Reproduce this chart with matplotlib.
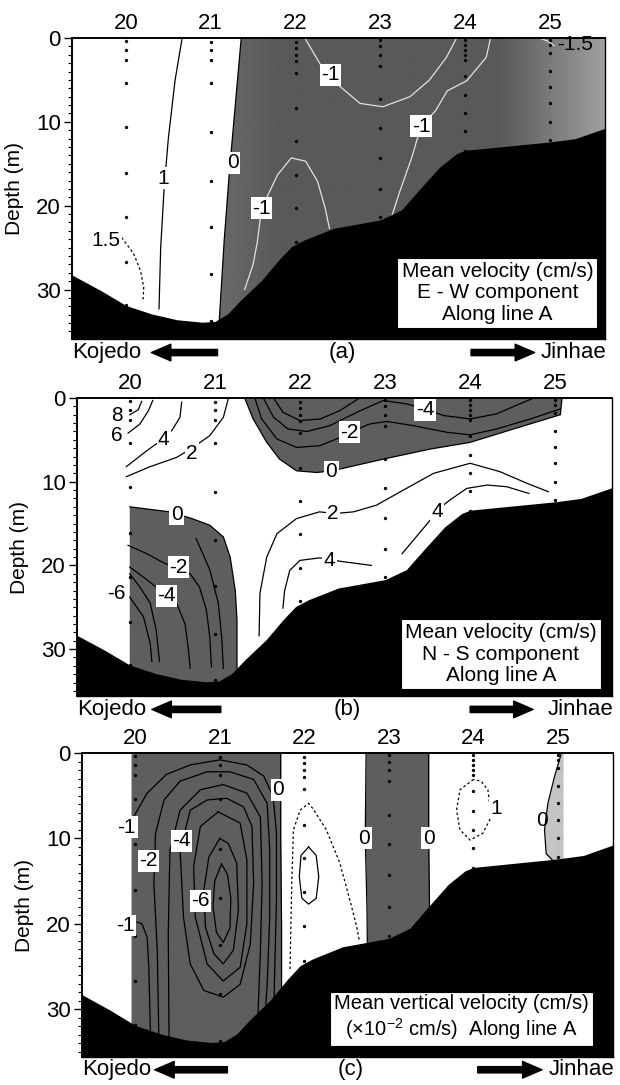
#! /usr/bin/python3

import numpy as np
import matplotlib.pyplot as plt
from matplotlib.patches import Polygon
from matplotlib.ticker import MultipleLocator

# ---- stations and sampling points ----
stations = [20, 21, 22, 23, 24, 25]
station_labels = ["20", "21", "22", "23", "24", "25"]

dots_20 = [0.4, 1.4, 2.6, 5.4, 10.6, 16.1, 21.4, 26.7, 31.9]
dots_21 = [0.5, 1.4, 2.6, 5.4, 11.2, 17.0, 22.5, 28.2, 33.7]
dots_22 = [0.5, 1.2, 2.0, 2.8, 4.2, 8.4, 12.3, 16.3, 20.3, 24.3]
dots_23 = [0.2, 1.0, 2.0, 3.3, 7.3, 10.7, 14.3, 18.0, 21.4]
dots_24 = [0.2, 0.8, 1.4, 2.0, 2.6, 4.5, 6.8, 9.0, 11.1, 13.5]
dots_25 = [0.2, 0.8, 1.8, 3.9, 5.8, 7.8, 10.0, 12.2]

# ---- bottom topography (station, depth m) ----
bath_x = [19.3, 19.37, 19.7, 20.0, 20.3, 20.6, 20.9, 21.05, 21.2, 21.35, 21.6, 21.8,
          21.95, 22.1, 22.45, 23.0, 23.25, 23.45, 23.7, 23.9, 24.0, 24.4, 25.0,
          25.3, 25.7]
bath_z = [28.0, 28.3, 30.1, 31.9, 32.9, 33.6, 33.9, 33.8, 32.9, 31.3, 28.9, 26.5,
          24.9, 24.1, 22.7, 21.7, 20.5, 18.2, 15.4, 13.8, 13.4, 13.0, 12.4,
          12.0, 10.6]

# ---- (a) E-W component ----
a_zero_x = [21.36, 21.29, 21.22, 21.16, 21.10, 21.07]
a_zero_z = [0, 8, 16, 24, 33.8, 36]
a_one_x = [20.66, 20.58, 20.50, 20.45, 20.41, 20.39]
a_one_z = [0.2, 5, 12, 18, 25, 32.3]
a_onehalf_x = [19.95, 20.09, 20.17, 20.21, 20.20]
a_onehalf_z = [23.8, 25.7, 27.7, 29.7, 31.5]
a_m1_bowl_x = [22.11, 22.29, 22.48, 22.76, 23.03, 23.35, 23.58, 23.78, 23.90]
a_m1_bowl_z = [0, 3.1, 5.4, 7.8, 8.2, 7.0, 5.0, 2.3, 0]
a_m1_right_x = [24.30, 24.25, 24.02, 23.79, 23.65, 23.48, 23.37, 23.23, 23.14, 23.07]
a_m1_right_z = [0, 2.3, 5.1, 6.3, 8.7, 10.5, 14.3, 18.3, 21.1, 22.7]
a_m1_hump_x = [21.40, 21.50, 21.55, 21.60, 21.79, 21.95, 22.12, 22.26, 22.35, 22.40]
a_m1_hump_z = [30.0, 27.0, 24.3, 20.3, 16.3, 14.3, 14.7, 17.1, 20.3, 22.7]
a_m15_x = [24.88, 24.98, 25.05]
a_m15_z = [0, 0.4, 0.9]

# ---- (b) N-S component ----
b_zero_top_x = [21.35, 21.45, 21.61, 21.76, 21.96, 22.2, 22.37, 22.55, 22.98,
                23.53, 24.0, 24.51, 25.06, 25.08]
b_zero_top_z = [0, 2.5, 5.3, 7.3, 8.7, 8.9, 8.7, 8.3, 7.3, 6.1, 5.3, 3.7, 2.0, 0]
b_m2_x = [21.47, 21.55, 21.73, 21.96, 22.23, 22.43, 22.59, 22.82, 23.02, 23.33,
          23.73, 24.0, 24.31, 24.71, 25.06]
b_m2_z = [0, 2.5, 4.9, 5.9, 5.7, 4.9, 4.1, 3.1, 2.8, 3.3, 4.1, 4.4, 3.7, 2.5, 1.3]
b_m4_x = [21.57, 21.69, 21.86, 22.08, 22.35, 22.67, 22.98, 23.25, 23.47, 23.69,
          24.0, 24.31, 24.63, 24.75]
b_m4_z = [0, 2.3, 3.7, 4.0, 3.3, 1.7, 0.3, 0.7, 1.3, 2.1, 2.5, 1.9, 0.5, 0]
b_m6_x = [21.69, 21.80, 22.0, 22.24, 22.47, 22.70]
b_m6_z = [0, 1.7, 2.7, 2.5, 1.5, 0]
b_2_x = [21.52, 21.53, 21.61, 21.73, 21.96, 22.23, 22.41, 22.63, 22.9, 23.18,
         23.57, 24.0, 24.35, 24.67, 24.92]
b_2_z = [28.4, 23.3, 19.0, 16.2, 14.4, 13.6, 13.8, 13.6, 12.8, 11.2, 9.0, 7.8,
         8.8, 10.2, 11.2]
b_4a_x = [21.80, 21.82, 21.88, 22.0, 22.23, 22.35, 22.47, 22.84]
b_4a_z = [25.1, 23.0, 20.6, 19.4, 19.1, 19.3, 19.5, 20.0]
b_4b_x = [23.20, 23.53, 23.61, 23.76, 23.96, 24.2, 24.43, 24.69]
b_4b_z = [18.6, 14.6, 13.4, 12.2, 10.8, 10.4, 10.6, 11.4]
b_2ul_x = [21.16, 21.10, 20.94, 20.73, 20.55, 20.24, 19.96]
b_2ul_z = [0, 2.3, 4.5, 6.0, 7.1, 8.2, 9.4]
b_4ul_x = [20.61, 20.59, 20.50, 20.39, 20.20, 19.96]
b_4ul_z = [0.5, 2.3, 3.8, 4.9, 6.3, 8.2]
b_6_x = [19.98, 20.12, 20.22, 20.27]
b_6_z = [4.2, 3.1, 1.5, 0.3]
b_8_x = [20.00, 20.10, 20.14]
b_8_z = [2.0, 1.4, 0.4]
b_zero_ll_x = [20.0, 20.47, 20.73, 20.94, 21.10, 21.18, 21.24, 21.26, 21.26]
b_zero_ll_z = [13.0, 13.6, 14.4, 15.2, 16.6, 19.0, 23.0, 26.5, 36.0]
b_ll_m2_x = [19.98, 20.2, 20.4, 20.57, 20.71, 20.82, 20.9, 20.94, 20.96]
b_ll_m2_z = [17.6, 18.6, 19.7, 20.4, 21.0, 22.6, 25.3, 28.5, 32.1]
b_ll_m4_x = [20.0, 20.16, 20.3, 20.43, 20.55, 20.65, 20.69, 20.71]
b_ll_m4_z = [20.2, 21.4, 22.5, 23.5, 24.5, 27.0, 30.1, 32.3]
b_ll_m6_x = [20.0, 20.12, 20.24, 20.31, 20.35]
b_ll_m6_z = [21.0, 22.6, 24.5, 27.7, 31.5]
b_ll_m8_x = [20.0, 20.16, 20.24, 20.26]
b_ll_m8_z = [23.8, 26.1, 29.3, 31.5]
b_ll_m1_x = [20.78, 20.94, 21.04, 21.08, 21.10]
b_ll_m1_z = [16.8, 20.5, 24.5, 28.5, 32.3]

# ---- (c) vertical component ----
c_band1_z = [0, 10, 20, 36]
c_band1_right = [21.72, 21.72, 21.73, 21.73]
c_band2_z = [0, 10, 18, 36]
c_band2_left = [22.73, 22.72, 22.74, 22.76]
c_band2_right = [23.47, 23.47, 23.48, 23.50]
c_band3_z = [0, 2.7, 5.9, 9.0, 11.8, 12.6]
c_band3_left = [25.04, 24.96, 24.88, 24.84, 24.86, 24.94]
c_m1a_x = [19.98, 20.14, 20.37, 20.65, 21.0, 21.32, 21.52, 21.63, 21.67, 21.67,
           21.65, 21.64]
c_m1a_z = [7.5, 4.7, 2.5, 1.4, 0.8, 1.4, 2.7, 5.1, 9.4, 17.3, 25.1, 29.5]
c_m1b_x = [20.02, 20.08, 20.14, 20.16, 20.18]
c_m1b_z = [19.8, 20.0, 21.6, 25.1, 33.0]
c_m2_x = [20.28, 20.26, 20.22, 20.24, 20.34, 20.53, 20.85, 21.12, 21.4, 21.56,
          21.59, 21.59, 21.56, 21.53]
c_m2_z = [34.0, 23.1, 15.3, 9.4, 5.5, 3.3, 2.2, 2.2, 3.1, 5.9, 11.4, 19.2, 27.1, 31.5]
c_m3_x = [20.40, 20.39, 20.41, 20.53, 20.77, 21.04, 21.32, 21.48, 21.50, 21.48, 21.45]
c_m3_z = [34.0, 21.2, 11.4, 6.7, 4.3, 3.7, 4.7, 7.5, 15.3, 23.1, 31.0]
c_m4_x = [20.53, 20.57, 20.65, 20.81, 21.04, 21.24, 21.36, 21.40, 21.38, 21.28,
          21.08, 20.85, 20.65, 20.53]
c_m4_z = [11.4, 19.2, 24.7, 27.8, 28.6, 27.1, 22.4, 15.3, 8.6, 6.3, 5.3, 5.5, 6.7, 11.4]
c_m5_x = [20.98, 20.77, 20.69, 20.71, 20.85, 21.04, 21.24, 21.32, 21.32, 21.24, 20.98]
c_m5_z = [6.9, 8.6, 13.3, 19.2, 24.7, 26.7, 25.1, 20.0, 12.5, 8.2, 6.9]
c_m6_x = [21.0, 20.87, 20.81, 20.83, 20.93, 21.04, 21.16, 21.22, 21.20, 21.10, 21.0]
c_m6_z = [10.0, 12.2, 16.1, 20.4, 23.5, 24.7, 23.1, 18.4, 12.9, 10.6, 10.0]
c_m7_x = [21.02, 20.94, 20.92, 20.96, 21.04, 21.12, 21.13, 21.09, 21.02]
c_m7_z = [13.0, 15.0, 18.0, 21.0, 22.2, 20.5, 17.0, 14.2, 13.0]
c_dash22_x = [21.83, 21.85, 21.87, 21.95, 22.05, 22.10, 22.26, 22.42, 22.54, 22.62, 22.65]
c_dash22_z = [25.3, 15.7, 9.0, 6.7, 5.9, 6.5, 9.0, 12.9, 17.3, 20.4, 22.0]
c_oval22_x = [22.05, 21.96, 21.94, 21.97, 22.05, 22.14, 22.17, 22.14, 22.05]
c_oval22_z = [11.0, 12.0, 14.5, 17.0, 17.7, 17.0, 14.5, 12.0, 11.0]
c_dash24_x = [24.0, 23.84, 23.80, 23.84, 23.96, 24.11, 24.21, 24.17, 24.09, 24.0]
c_dash24_z = [3.1, 4.3, 6.7, 9.0, 10.2, 9.4, 7.5, 4.3, 3.3, 3.1]

legend_a = "Mean velocity (cm/s)\nE - W component\nAlong line A"
legend_b = "Mean velocity (cm/s)\nN - S component\nAlong line A"
legend_c = "Mean vertical velocity (cm/s)\n(×10$^{-2}$ cm/s)  Along line A"

DARK = "#5e5e5e"
LIGHT = "#c4c4c4"
FS = 16
W, H = 620, 1085


def make_axes(fig, left, right, top, bottom, xlim, ylim):
    ax = fig.add_axes([left / W, 1 - bottom / H, (right - left) / W, (bottom - top) / H])
    ax.set_xlim(*xlim)
    ax.set_ylim(*ylim)
    ax.xaxis.tick_top()
    ax.set_xticks(stations)
    ax.set_xticklabels(station_labels, fontsize=FS)
    ax.tick_params(axis="x", length=0, pad=3)
    ax.set_yticks([0, 10, 20, 30])
    ax.yaxis.set_minor_locator(MultipleLocator(1))
    ax.tick_params(axis="y", which="major", direction="out", length=6, width=1,
                   labelsize=FS, pad=2)
    ax.tick_params(axis="y", which="minor", direction="out", length=3, width=0.8)
    ax.set_ylabel("Depth (m)", fontsize=15)
    ax.yaxis.set_label_coords(-0.09, 0.5)
    for side in ["left", "top"]:
        ax.spines[side].set_linewidth(1.4)
    for side in ["right", "bottom"]:
        ax.spines[side].set_linewidth(1.0)
    return ax


def dots(ax):
    for st, d in zip(stations, [dots_20, dots_21, dots_22, dots_23, dots_24, dots_25]):
        ax.plot([st] * len(d), d, "o", ms=2.4, mew=0, color="black", zorder=3)


def bottom(ax):
    ax.fill_between(bath_x, bath_z, 40, color="black", lw=0, zorder=4)


def line(ax, x, z, color="black", ls="-", lw=0.9):
    ax.plot(x, z, color=color, ls=ls, lw=lw, zorder=2)


def clabel(ax, x, z, s, box=True, fs=15):
    bb = dict(facecolor="white", edgecolor="none", pad=1.0) if box else None
    ax.text(x, z, s, ha="center", va="center", fontsize=fs, bbox=bb, zorder=5)


def legend(ax, x, z, s, fs=15):
    ax.text(x, z, s, ha="center", va="center", multialignment="center",
            fontsize=fs, linespacing=1.15, zorder=6,
            bbox=dict(facecolor="white", edgecolor="black", lw=0.8, pad=3))


def footer(ax, tag, koj, jin, y):
    tr = ax.get_xaxis_transform()
    ax.text(ax.get_xlim()[0], y, "Kojedo", transform=tr, ha="left", va="center", fontsize=FS)
    ax.text(22.55, y, tag, transform=tr, ha="center", va="center", fontsize=FS)
    ax.text(ax.get_xlim()[1] + 0.02, y, "Jinhae", transform=tr, ha="right", va="center",
            fontsize=FS)
    arrow = dict(facecolor="black", edgecolor="black", width=4.5, headwidth=12,
                 headlength=14, shrink=0.0)
    ax.annotate("", xy=(koj[0], y), xytext=(koj[1], y), xycoords=tr, textcoords=tr,
                arrowprops=arrow, annotation_clip=False)
    ax.annotate("", xy=(jin[1], y), xytext=(jin[0], y), xycoords=tr, textcoords=tr,
                arrowprops=arrow, annotation_clip=False)


def panel_a(fig):
    xlim, ylim = (19.364, 25.65), (35.9, 0)
    ax = make_axes(fig, 72, 605, 38, 339, xlim, ylim)
    # shaded negative region, lighter toward the eastern edge as in the print
    verts = list(zip(a_zero_x, a_zero_z)) + [(25.8, 36), (25.8, 0)]
    patch = Polygon(verts, closed=True, facecolor="none", edgecolor="none")
    ax.add_patch(patch)
    xs = np.linspace(21.0, 25.8, 300)
    shade = np.interp(xs, [21.0, 21.8, 24.4, 25.1, 25.8], [0.42, 0.35, 0.35, 0.5, 0.66])
    im = ax.imshow(shade[None, :], extent=[21.0, 25.8, 36, 0], cmap="gray", vmin=0,
                   vmax=1, aspect="auto", zorder=1, interpolation="bilinear")
    im.set_clip_path(patch)
    ax.set_xlim(*xlim)
    ax.set_ylim(*ylim)
    line(ax, a_zero_x, a_zero_z)
    line(ax, a_one_x, a_one_z)
    line(ax, a_onehalf_x, a_onehalf_z, ls=(0, (2, 2)))
    for x, z in [(a_m1_bowl_x, a_m1_bowl_z), (a_m1_right_x, a_m1_right_z),
                 (a_m1_hump_x, a_m1_hump_z), (a_m15_x, a_m15_z)]:
        line(ax, x, z, color="#e2e2e2")
    dots(ax)
    bottom(ax)
    clabel(ax, 21.26, 14.9, "0")
    clabel(ax, 20.44, 16.7, "1")
    clabel(ax, 19.76, 24.2, "1.5")
    clabel(ax, 22.41, 4.4, "-1")
    clabel(ax, 23.48, 10.5, "-1")
    clabel(ax, 21.60, 20.3, "-1")
    clabel(ax, 25.30, 0.8, "-1.5", box=False)
    legend(ax, 24.38, 30.4, legend_a)
    footer(ax, "(a)", (20.30, 21.08), (24.07, 24.82), -0.045)


def panel_b(fig):
    ax = make_axes(fig, 77, 612, 398, 696, (19.38, 25.667), (35.6, 0))
    ax.fill(b_zero_top_x, b_zero_top_z, color=DARK, lw=0, zorder=1)
    ax.fill(b_zero_ll_x + [20.0], b_zero_ll_z + [36.0], color=DARK, lw=0, zorder=1)
    for x, z in [(b_zero_top_x, b_zero_top_z), (b_m2_x, b_m2_z), (b_m4_x, b_m4_z),
                 (b_m6_x, b_m6_z), (b_2_x, b_2_z), (b_4a_x, b_4a_z), (b_4b_x, b_4b_z),
                 (b_2ul_x, b_2ul_z), (b_4ul_x, b_4ul_z), (b_6_x, b_6_z), (b_8_x, b_8_z),
                 (b_zero_ll_x, b_zero_ll_z), (b_ll_m2_x, b_ll_m2_z),
                 (b_ll_m4_x, b_ll_m4_z), (b_ll_m6_x, b_ll_m6_z),
                 (b_ll_m8_x, b_ll_m8_z), (b_ll_m1_x, b_ll_m1_z)]:
        line(ax, x, z)
    dots(ax)
    bottom(ax)
    clabel(ax, 22.37, 8.8, "0")
    clabel(ax, 20.55, 13.9, "0")
    clabel(ax, 22.58, 4.1, "-2")
    clabel(ax, 23.47, 1.4, "-4")
    clabel(ax, 22.39, 13.8, "2")
    clabel(ax, 22.35, 19.4, "4")
    clabel(ax, 23.61, 13.5, "4")
    clabel(ax, 20.73, 6.6, "2")
    clabel(ax, 20.40, 4.9, "4")
    clabel(ax, 19.85, 4.5, "6")
    clabel(ax, 19.85, 2.1, "8")
    clabel(ax, 20.57, 20.2, "-2")
    clabel(ax, 20.43, 23.6, "-4")
    clabel(ax, 19.84, 23.4, "-6")
    legend(ax, 24.36, 30.6, legend_b)
    footer(ax, "(b)", (20.26, 21.07), (24.00, 24.74), -0.045)


def panel_c(fig):
    ax = make_axes(fig, 82, 613, 753, 1057, (19.37, 25.65), (35.6, 0))
    ax.fill_betweenx(c_band1_z, 19.95, c_band1_right, color=DARK, lw=0, zorder=1)
    ax.fill_betweenx(c_band2_z, c_band2_left, c_band2_right, color=DARK, lw=0, zorder=1)
    ax.fill_betweenx(c_band3_z, c_band3_left, 25.06, color=LIGHT, lw=0, zorder=1)
    for x, z in [(c_band1_right, c_band1_z), (c_band2_left, c_band2_z),
                 (c_band2_right, c_band2_z), (c_band3_left, c_band3_z),
                 (c_m1a_x, c_m1a_z), (c_m1b_x, c_m1b_z), (c_m2_x, c_m2_z),
                 (c_m3_x, c_m3_z), (c_m4_x, c_m4_z), (c_m5_x, c_m5_z),
                 (c_m6_x, c_m6_z), (c_m7_x, c_m7_z), (c_oval22_x, c_oval22_z)]:
        line(ax, x, z)
    line(ax, c_dash22_x, c_dash22_z, ls=(0, (2, 2)))
    line(ax, c_dash24_x, c_dash24_z, ls=(0, (2, 2)))
    dots(ax)
    bottom(ax)
    clabel(ax, 21.69, 4.3, "0")
    clabel(ax, 22.71, 10.0, "0")
    clabel(ax, 23.47, 10.0, "0")
    clabel(ax, 24.81, 7.9, "0", box=False)
    clabel(ax, 24.27, 6.5, "1")
    clabel(ax, 19.90, 8.7, "-1")
    clabel(ax, 19.88, 20.2, "-1")
    clabel(ax, 20.16, 12.6, "-2")
    clabel(ax, 20.55, 10.3, "-4")
    clabel(ax, 20.77, 17.3, "-6")
    legend(ax, 23.86, 31.0, legend_c, fs=14.5)
    footer(ax, "(c)", (20.23, 21.09), (24.05, 24.81), -0.042)


def main():
    plt.rcParams["font.family"] = ["Liberation Sans", "DejaVu Sans"]
    plt.rcParams["mathtext.fontset"] = "custom"
    plt.rcParams["mathtext.rm"] = "Liberation Sans"
    plt.rcParams["mathtext.it"] = "Liberation Sans:italic"
    fig = plt.figure(figsize=(6.2, 10.85), dpi=100)
    panel_a(fig)
    panel_b(fig)
    panel_c(fig)
    fig.savefig("out.png", dpi=100, facecolor="white")


if __name__ == "__main__":
    main()
